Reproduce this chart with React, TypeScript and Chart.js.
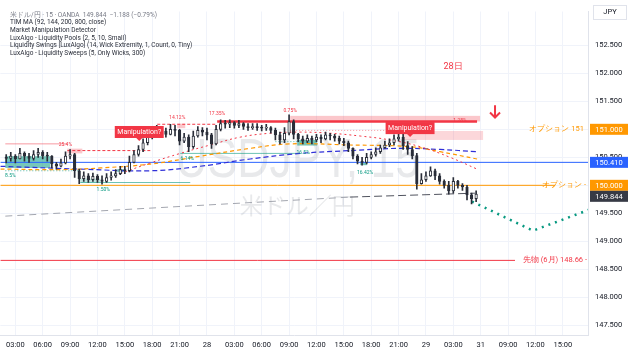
import React, { useEffect, useRef } from "react";
import { Chart, registerables } from "chart.js";

Chart.register(...registerables);

// ---------------- data ----------------
const candleStartHour = 2; // 27th 02:00, 30-minute bars
const candleStepHours = 0.5;
const firstOpen = 150.5;
const closes = [
  150.48, 150.52, 150.47, 150.57, 150.52, 150.48, 150.55, 150.59, 150.53, 150.52,
  150.38, 150.34, 150.4, 150.52, 150.55, 150.26, 150.12, 150.17, 150.1, 150.16,
  150.1, 150.07, 150.14, 150.17, 150.21, 150.28, 150.26, 150.41, 150.55, 150.64,
  150.76, 150.86, 150.95, 151.0, 150.97, 150.91, 151.0, 150.98, 150.79, 150.86,
  150.69, 150.88, 150.98, 150.95, 150.9, 150.74, 151.0, 151.1, 151.09, 151.12,
  151.07, 151.1, 151.05, 151.03, 151.05, 151.03, 151.02, 151.03, 150.98, 150.9,
  150.81, 150.93, 151.14, 150.91, 150.83, 150.79, 150.84, 150.81, 150.86, 150.83,
  150.9, 150.88, 150.84, 150.79, 150.76, 150.66, 150.52, 150.43, 150.41, 150.5,
  150.55, 150.6, 150.67, 150.72, 150.76, 150.83, 150.86, 150.71, 150.64, 150.53,
  150.03, 150.1, 150.17, 150.26, 150.17, 150.07, 150.0, 149.9, 150.07, 150.0,
  149.97, 149.83, 149.76, 149.844,
];
const highs = [
  150.55, 150.59, 150.55, 150.66, 150.6, 150.57, 150.62, 150.66, 150.62, 150.59,
  150.53, 150.41, 150.47, 150.6, 150.64, 150.57, 150.29, 150.24, 150.21, 150.22,
  150.19, 150.17, 150.21, 150.24, 150.28, 150.34, 150.34, 150.52, 150.62, 150.71,
  150.83, 150.93, 151.03, 151.07, 151.05, 151.02, 151.09, 151.07, 151.0, 150.93,
  150.9, 150.97, 151.05, 151.03, 151.02, 150.93, 151.07, 151.17, 151.16, 151.17,
  151.14, 151.16, 151.12, 151.1, 151.1, 151.1, 151.07, 151.09, 151.05, 151.02,
  150.95, 151.03, 151.26, 151.17, 150.93, 150.88, 150.9, 150.88, 150.91, 150.9,
  150.95, 150.93, 150.91, 150.88, 150.84, 150.79, 150.67, 150.55, 150.5, 150.57,
  150.6, 150.67, 150.72, 150.79, 150.83, 150.9, 150.98, 150.93, 150.78, 150.69,
  150.57, 150.21, 150.24, 150.33, 150.29, 150.21, 150.1, 150.07, 150.14, 150.09,
  150.03, 150.0, 149.86, 149.9,
];
const lows = [
  150.4, 150.43, 150.4, 150.47, 150.43, 150.41, 150.45, 150.5, 150.47, 150.43,
  150.31, 150.29, 150.33, 150.38, 150.47, 150.14, 150.03, 150.07, 150.05, 150.07,
  150.05, 150.02, 150.05, 150.09, 150.14, 150.19, 150.21, 150.24, 150.4, 150.52,
  150.6, 150.72, 150.83, 150.91, 150.91, 150.86, 150.9, 150.88, 150.72, 150.76,
  150.6, 150.66, 150.86, 150.88, 150.81, 150.66, 150.72, 150.97, 151.02, 151.03,
  151.02, 151.03, 151.0, 150.98, 151.0, 150.98, 150.97, 150.98, 150.93, 150.81,
  150.74, 150.76, 150.9, 150.83, 150.78, 150.74, 150.76, 150.74, 150.78, 150.76,
  150.81, 150.81, 150.79, 150.74, 150.71, 150.6, 150.47, 150.38, 150.36, 150.38,
  150.47, 150.52, 150.57, 150.66, 150.69, 150.72, 150.79, 150.64, 150.55, 150.47,
  149.93, 150.02, 150.07, 150.16, 150.1, 150.02, 149.95, 149.84, 149.86, 149.95,
  149.91, 149.74, 149.67, 149.71,
];

const xTickHours = [3, 6, 9, 12, 15, 18, 21, 24, 27, 30, 33, 36, 39, 42, 45, 48, 51, 54, 57, 60, 63];
const xTickLabels = [
  "03:00", "06:00", "09:00", "12:00", "15:00", "18:00", "21:00", "28",
  "03:00", "06:00", "09:00", "12:00", "15:00", "18:00", "21:00", "29",
  "03:00", "31", "09:00", "12:00", "15:00",
];
const yTickValues = [147.5, 148, 148.5, 149, 149.5, 150, 150.5, 151, 151.5, 152, 152.5];

// moving averages (TIM MA)
const maRedHours = [14.5, 17.79, 21.07, 24.36, 27.64, 30.93, 34.21, 37.5, 40.79, 44.07, 47.36, 50.64, 53.6];
const maRedPrices = [150.21, 150.4, 150.57, 150.72, 150.86, 150.93, 150.95, 150.93, 150.88, 150.81, 150.69, 150.5, 150.29];
const maOrangeHours = [1.36, 7.93, 12.31, 17.79, 23.26, 28.74, 33.12, 39.69, 46.26, 49.55, 53.6];
const maOrangePrices = [150.29, 150.28, 150.31, 150.38, 150.52, 150.66, 150.74, 150.72, 150.69, 150.6, 150.47];
const maNavyHours = [1.36, 10.12, 17.79, 23.26, 28.74, 34.21, 39.69, 45.13, 49.55, 53.6];
const maNavyPrices = [150.34, 150.29, 150.26, 150.34, 150.47, 150.57, 150.62, 150.66, 150.64, 150.6];

const projectionHours = [53.05, 59.73, 65.98];
const projectionPrices = [149.71, 149.19, 149.57];
const trendLightHours = [1.9, 39.69];
const trendLightPrices = [149.45, 149.79];
const trendDarkHours = [39.69, 53.4];
const trendDarkPrices = [149.79, 149.86];

const levelBlue = 150.41;
const levelOption150 = 150.0;
const levelOption151 = 151.0;
const levelFutures = 148.66;
const lastPrice = 149.844;
const levelFuturesEndHour = 57.76;
const levelOptionEndHour = 62.14;

// liquidity zones [hourFrom, hourTo, priceLow, priceHigh]
const tealBoxes = [
  [1.9, 6.83, 150.31, 150.52],
  [14.17, 14.83, 150.24, 150.29],
  [33.89, 36.08, 150.71, 150.81],
  [40.79, 41.55, 150.36, 150.41],
];
const tealBoxesLight = [[10.12, 12.31, 150.05, 150.12]];
const tealSolidLines = [[10.12, 22.17, 150.05], [21.07, 34.21, 150.57]];
const tealDottedLines = [[1.9, 10.12, 150.26], [31.5, 33.9, 150.78]];
const pinkBoxes = [[8.7, 10.34, 150.57, 150.655], [20.74, 21.62, 151.02, 151.1], [33.12, 53.93, 151.14, 151.24]];
const pinkBoxesLight = [[45.5, 54.26, 150.81, 150.97]];
const redThinLines = [[1.9, 8.7, 150.74]];
const redDashedLines = [[8.7, 17.79, 150.62], [18.55, 25.12, 151.09]];
const redThickLines = [[25.12, 53.6, 151.14]];
const redDottedLines = [[33.12, 44.0, 150.98]];

const manipulationLabels = [[16.58, 150.845], [46.26, 150.914]];
const redSmallLabels: [number, number, string][] = [
  [8.48, 150.724, "25.4%"],
  [20.74, 151.207, "14.12%"],
  [25.12, 151.276, "17.35%"],
  [33.12, 151.327, "0.75%"],
  [51.74, 151.155, "1.28%"],
];
const tealSmallLabels: [number, number, string][] = [
  [2.45, 150.172, "8.5%"],
  [12.64, 149.914, "1.50%"],
  [21.84, 150.466, "6.14%"],
  [34.54, 150.586, "16.5%"],
  [41.33, 150.224, "16.42%"],
];
const dayNote = { hour: 50.97, price: 152.12, text: "28日" };
const arrowMark = { hour: 55.57, top: 151.43, bottom: 151.21 };

const legendLines = [
  "米ドル/円 · 15 · OANDA  149.844  −1.188 (−0.79%)",
  "TIM MA (92, 144, 200, 800, close)",
  "Market Manipulation Detector",
  "LuxAlgo - Liquidity Pools (2, 5, 10, Small)",
  "Liquidity Swings [LuxAlgo] (14, Wick Extremity, 1, Count, 0, Tiny)",
  "LuxAlgo - Liquidity Sweeps (5, Only Wicks, 300)",
];

const xMin = 1.357;
const xMax = 65.76;
const yMin = 147.328;
const yMax = 153.103;

const FONT = 'Roboto, "Liberation Sans", sans-serif';
const RED = "#f23645";
const TEAL = "#089981";

const pairs = (hs: number[], ps: number[]) => hs.map((h, i) => ({ x: h, y: ps[i] }));

const overlayPlugin = {
  id: "overlay",
  beforeDatasetsDraw(chart: any) {
    const { ctx, chartArea: a } = chart;
    const X = (h: number) => chart.scales.x.getPixelForValue(h);
    const Y = (p: number) => chart.scales.y.getPixelForValue(p);
    ctx.save();
    ctx.beginPath();
    ctx.rect(a.left, a.top, a.right - a.left, a.bottom - a.top);
    ctx.clip();

    // watermark
    ctx.fillStyle = "rgba(120,123,134,0.17)";
    ctx.textAlign = "center";
    ctx.textBaseline = "alphabetic";
    ctx.font = '56px "Liberation Sans", Arial, sans-serif';
    const wm = "USDJPY, 15";
    const w = ctx.measureText(wm).width;
    ctx.save();
    ctx.translate(X(33.94), Y(150.14));
    ctx.scale(245 / w, 1);
    ctx.fillText(wm, 0, 0);
    ctx.restore();
    ctx.font = '23px "Noto Sans CJK JP", sans-serif';
    ctx.fillText("米ドル／円", X(33.9), Y(149.48));

    const box = (b: number[], color: string) => {
      ctx.fillStyle = color;
      const x0 = X(b[0]), x1 = X(b[1]), y0 = Y(b[3]), y1 = Y(b[2]);
      ctx.fillRect(x0, y0, x1 - x0, y1 - y0);
    };
    const hline = (l: number[], color: string, width: number, dash: number[]) => {
      ctx.strokeStyle = color;
      ctx.lineWidth = width;
      ctx.setLineDash(dash);
      ctx.beginPath();
      ctx.moveTo(X(l[0]), Y(l[2]));
      ctx.lineTo(X(l[1]), Y(l[2]));
      ctx.stroke();
    };
    tealBoxes.forEach((b) => box(b, "rgba(8,153,129,0.55)"));
    tealBoxesLight.forEach((b) => box(b, "rgba(8,153,129,0.25)"));
    pinkBoxes.forEach((b) => box(b, "rgba(242,54,69,0.28)"));
    pinkBoxesLight.forEach((b) => box(b, "rgba(242,54,69,0.2)"));
    tealSolidLines.forEach((l) => hline(l, "rgba(8,153,129,0.6)", 1, []));
    tealDottedLines.forEach((l) => hline(l, "rgba(8,153,129,0.7)", 1, [1, 2]));
    redThinLines.forEach((l) => hline(l, "rgba(242,54,69,0.5)", 1, []));
    redDashedLines.forEach((l) => hline(l, RED, 1, [3, 2]));
    redThickLines.forEach((l) => hline(l, RED, 2.5, []));
    redDottedLines.forEach((l) => hline(l, "rgba(242,54,69,0.5)", 1, [1, 2]));
    ctx.setLineDash([]);
    ctx.restore();
  },
  afterDatasetsDraw(chart: any) {
    const { ctx, chartArea: a } = chart;
    const X = (h: number) => chart.scales.x.getPixelForValue(h);
    const Y = (p: number) => chart.scales.y.getPixelForValue(p);
    ctx.save();

    // manipulation labels
    ctx.font = `7px ${FONT}`;
    manipulationLabels.forEach(([h, p]) => {
      const cx = X(h), bottom = Y(p);
      const t = "Manipulation?";
      const tw = ctx.measureText(t).width + 5;
      ctx.fillStyle = RED;
      ctx.fillRect(cx - tw / 2, bottom - 12, tw, 12);
      ctx.beginPath();
      ctx.moveTo(cx - 3, bottom);
      ctx.lineTo(cx + 3, bottom);
      ctx.lineTo(cx, bottom + 3);
      ctx.fill();
      ctx.fillStyle = "#ffffff";
      ctx.textAlign = "center";
      ctx.textBaseline = "middle";
      ctx.fillText(t, cx, bottom - 6);
    });

    // tiny zone labels
    ctx.font = `5px ${FONT}`;
    ctx.textAlign = "center";
    ctx.textBaseline = "middle";
    ctx.fillStyle = RED;
    redSmallLabels.forEach(([h, p, t]) => ctx.fillText(t, X(h), Y(p)));
    ctx.fillStyle = TEAL;
    tealSmallLabels.forEach(([h, p, t]) => ctx.fillText(t, X(h), Y(p)));

    // 28日 note and arrow
    ctx.fillStyle = RED;
    ctx.font = `9px ${FONT}`;
    ctx.fillText(dayNote.text, X(dayNote.hour), Y(dayNote.price));
    const ax = X(arrowMark.hour), at = Y(arrowMark.top), ab = Y(arrowMark.bottom);
    ctx.strokeStyle = RED;
    ctx.lineWidth = 2;
    ctx.beginPath();
    ctx.moveTo(ax, at);
    ctx.lineTo(ax, ab);
    ctx.moveTo(ax - 5, ab - 5);
    ctx.lineTo(ax, ab);
    ctx.lineTo(ax + 5, ab - 5);
    ctx.stroke();

    // level texts
    ctx.textAlign = "right";
    ctx.font = `7.5px ${FONT}`;
    ctx.fillStyle = "#ff9800";
    ctx.fillText("オプション 151", a.right - 4, Y(levelOption151));
    ctx.fillText("オプション -", a.right - 2, Y(levelOption150));
    ctx.fillStyle = RED;
    ctx.fillText("先物 (6月) 148.66 -", a.right - 1, Y(levelFutures));
    ctx.restore();
  },
  afterDraw(chart: any) {
    const { ctx, chartArea: a } = chart;
    const Y = (p: number) => chart.scales.y.getPixelForValue(p);
    ctx.save();
    // price axis tags
    const tags: [number, string][] = [
      [levelOption151, "#ff9800"],
      [levelBlue, "#2962ff"],
      [levelOption150, "#ff9800"],
      [lastPrice, "#363a45"],
    ];
    let prev = -100;
    ctx.font = `7.5px ${FONT}`;
    ctx.textAlign = "center";
    ctx.textBaseline = "middle";
    tags.forEach(([p, c]) => {
      let cy = Y(p);
      if (cy < prev + 11) cy = prev + 11;
      prev = cy;
      ctx.fillStyle = c;
      ctx.fillRect(a.right + 2, cy - 5.5, 38, 11);
      ctx.fillStyle = "#ffffff";
      ctx.fillText(p.toFixed(3), a.right + 21, cy + 0.5);
    });
    // currency box
    ctx.strokeStyle = "#e0e3eb";
    ctx.lineWidth = 1;
    ctx.strokeRect(a.right + 5.5, 5.5, 33, 14);
    ctx.fillStyle = "#131722";
    ctx.fillText("JPY", a.right + 22, 12.5);

    // legend
    ctx.textAlign = "left";
    ctx.font = `6.5px ${FONT}`;
    legendLines.forEach((t, i) => {
      ctx.fillStyle = i === 0 ? "#787b86" : "#2a2e39";
      ctx.fillText(t, 10, 15 + i * 7.7);
    });
    ctx.restore();
  },
};

export default function App() {
  const ref = useRef<HTMLCanvasElement | null>(null);
  useEffect(() => {
    document.body.style.margin = "0";
    const canvas = ref.current;
    if (!canvas) return;
    const candleHours = closes.map((_, i) => candleStartHour + i * candleStepHours);
    const opens = closes.map((_, i) => (i === 0 ? firstOpen : closes[i - 1]));
    const bodyColors = closes.map((c, i) => (c >= opens[i] ? "#ffffff" : "#2a2e39"));

    const levelLine = (p: number, x1: number, color: string, order: number) => ({
      type: "line" as const,
      data: [{ x: xMin, y: p }, { x: x1, y: p }],
      borderColor: color,
      borderWidth: 1,
      pointRadius: 0,
      fill: false,
      order,
    });

    const chart = new Chart(canvas, {
      type: "bar",
      data: {
        datasets: [
          {
            type: "bar",
            data: candleHours.map((h, i) => ({ x: h, y: [Math.min(opens[i], closes[i]), Math.max(opens[i], closes[i])] })) as any,
            backgroundColor: bodyColors,
            borderColor: "#2a2e39",
            borderWidth: 1,
            borderSkipped: false,
            barThickness: 2.6,
            minBarLength: 1,
            grouped: false,
            order: 0,
          },
          {
            type: "bar",
            data: candleHours.map((h, i) => ({ x: h, y: [lows[i], highs[i]] })) as any,
            backgroundColor: "#2a2e39",
            barThickness: 1,
            grouped: false,
            order: 1,
          },
          {
            type: "line",
            data: pairs(maRedHours, maRedPrices),
            borderColor: RED,
            borderWidth: 1,
            borderDash: [2, 3],
            pointRadius: 0,
            tension: 0.4,
            order: 2,
          },
          {
            type: "line",
            data: pairs(maOrangeHours, maOrangePrices),
            borderColor: "#ff9800",
            borderWidth: 1.2,
            borderDash: [4, 3],
            pointRadius: 0,
            tension: 0.4,
            order: 3,
          },
          {
            type: "line",
            data: pairs(maNavyHours, maNavyPrices),
            borderColor: "#3030d8",
            borderWidth: 1.2,
            borderDash: [5, 3],
            pointRadius: 0,
            tension: 0.4,
            order: 4,
          },
          levelLine(levelBlue, xMax, "#2962ff", 5),
          levelLine(levelOption150, levelOptionEndHour, "#ff9800", 6),
          levelLine(levelFutures, levelFuturesEndHour, RED, 7),
          {
            type: "line",
            data: pairs(trendLightHours, trendLightPrices),
            borderColor: "#a3a6af",
            borderWidth: 1,
            borderDash: [7, 5],
            pointRadius: 0,
            order: 8,
          },
          {
            type: "line",
            data: pairs(trendDarkHours, trendDarkPrices),
            borderColor: "#50535e",
            borderWidth: 1,
            borderDash: [8, 4],
            pointRadius: 0,
            order: 9,
          },
          {
            type: "line",
            data: pairs(projectionHours, projectionPrices),
            borderColor: TEAL,
            borderWidth: 2.5,
            borderDash: [2, 5],
            pointRadius: 0,
            order: 10,
          },
        ] as any,
      },
      options: {
        animation: false,
        responsive: false,
        maintainAspectRatio: false,
        events: [],
        layout: { padding: 0 },
        plugins: { legend: { display: false }, tooltip: { enabled: false } },
        scales: {
          x: {
            type: "linear",
            min: xMin,
            max: xMax,
            offset: false,
            grid: { color: "#f0f3fa", drawTicks: false, offset: false },
            border: { display: true, color: "#e0e3eb" },
            ticks: {
              autoSkip: false,
              maxRotation: 0,
              padding: 6,
              color: "#131722",
              font: { size: 7.5, family: FONT },
              callback: (_v: any, i: number) => xTickLabels[i] ?? "",
            },
            afterBuildTicks: (s: any) => {
              s.ticks = xTickHours.map((v) => ({ value: v }));
            },
            afterFit: (s: any) => {
              s.height = 19;
            },
          },
          y: {
            type: "linear",
            position: "right",
            min: yMin,
            max: yMax,
            grid: { color: "#f0f3fa", drawTicks: false },
            border: { display: true, color: "#e0e3eb" },
            ticks: {
              padding: 7,
              color: "#131722",
              font: { size: 7.5, family: FONT },
              callback: (v: any) => Number(v).toFixed(3),
            },
            afterBuildTicks: (s: any) => {
              s.ticks = yTickValues.map((v) => ({ value: v }));
            },
            afterFit: (s: any) => {
              s.width = 42;
            },
          },
        },
      } as any,
      plugins: [overlayPlugin as any],
    });
    return () => chart.destroy();
  }, []);

  return (
    <div style={{ position: "fixed", left: 0, top: 0, width: 630, height: 354, background: "#ffffff" }}>
      <canvas ref={ref} width={630} height={354} style={{ display: "block", width: 630, height: 354 }} />
    </div>
  );
}
